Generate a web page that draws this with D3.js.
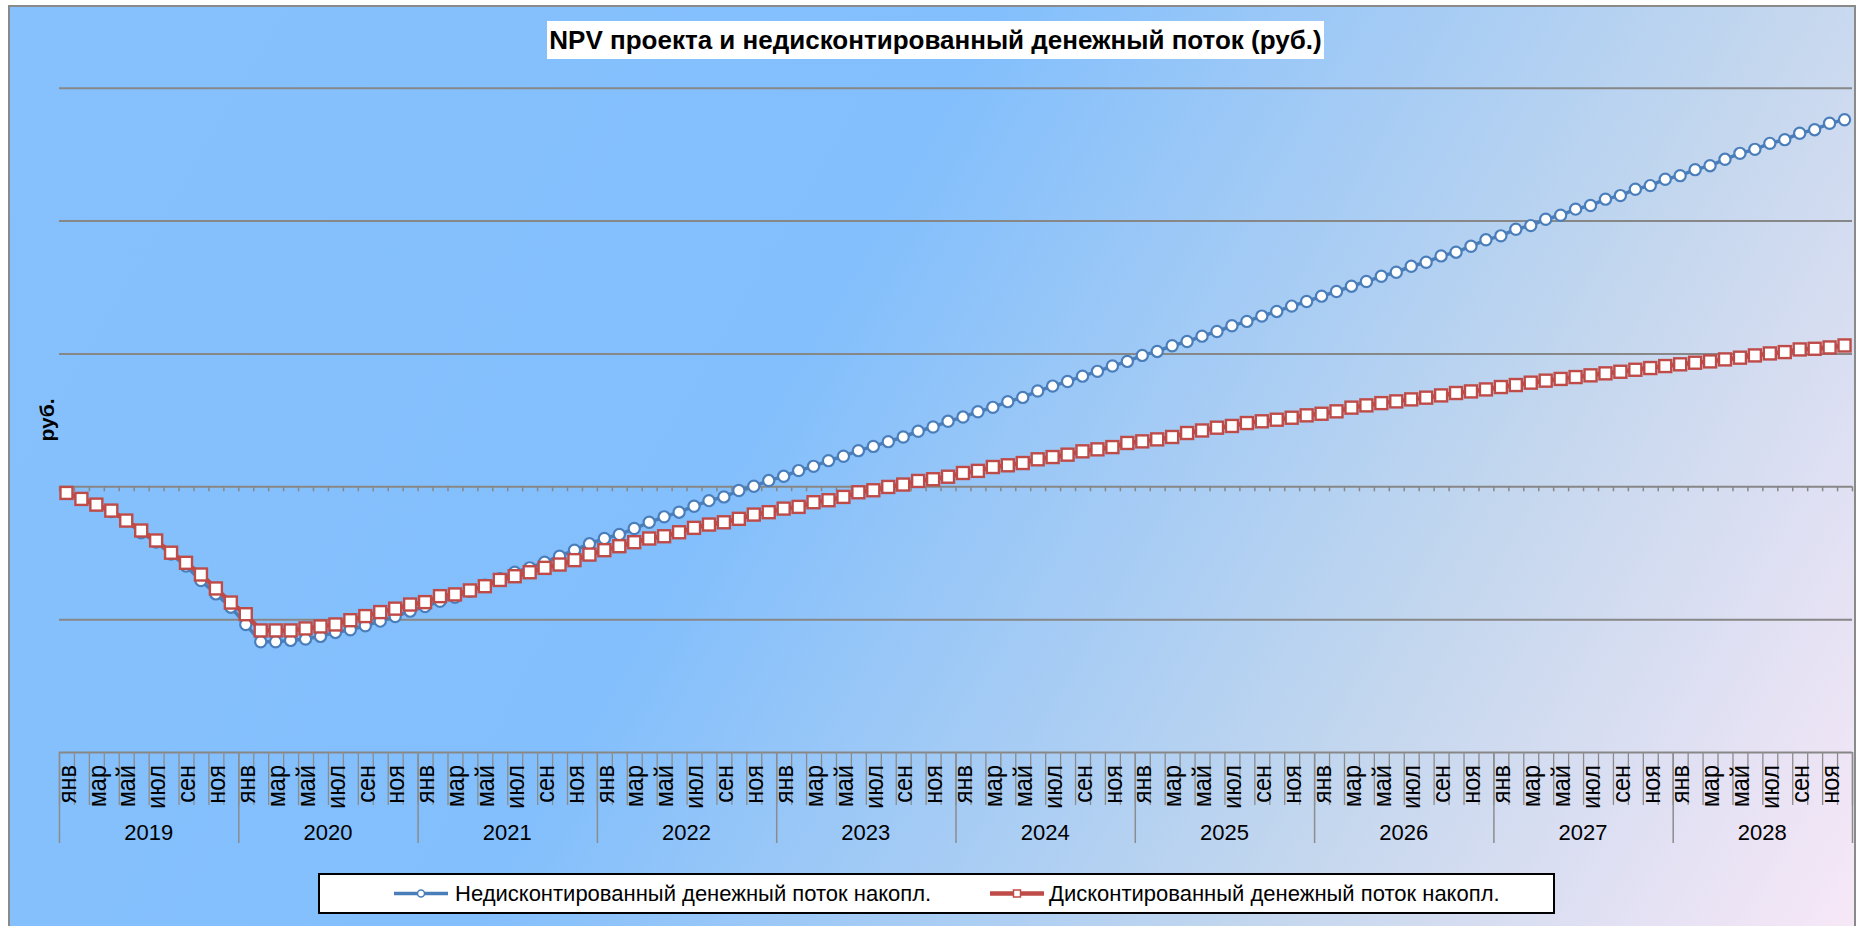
<!DOCTYPE html>
<html>
<head>
<meta charset="utf-8">
<script src="https://cdn.jsdelivr.net/npm/d3@7"></script>
<style>
    body { margin: 0; background: #ffffff; }
    text { font-family: Arial, "Liberation Sans", sans-serif; }
</style>
</head>
<body>
<div id="chart"></div>
<script>
const years = ["2019", "2020", "2021", "2022", "2023", "2024", "2025", "2026", "2027", "2028"];
const monthNames = ["янв", "фев", "мар", "апр", "май", "июн", "июл", "авг", "сен", "окт", "ноя", "дек"];
const yTicks = [-2, -1, 0, 1, 2, 3];

// накопленный поток по месяцам, 2019-01 .. 2028-12 (единицы оси, без подписей)
const undiscounted = [
    -0.05, -0.095, -0.14, -0.19, -0.26, -0.35, -0.42, -0.51, -0.60, -0.71, -0.81, -0.91,
    -1.04, -1.17, -1.17, -1.16, -1.15, -1.13, -1.10, -1.08, -1.05, -1.015, -0.98, -0.94,
    -0.905, -0.865, -0.835, -0.79, -0.745, -0.695, -0.647, -0.614, -0.571, -0.526, -0.481, -0.433,
    -0.393, -0.363, -0.318, -0.271, -0.23, -0.195, -0.15, -0.108, -0.08, -0.032, 0.0, 0.043,
    0.075, 0.118, 0.15, 0.193, 0.226, 0.268, 0.30, 0.336, 0.371, 0.414, 0.446, 0.489,
    0.521, 0.561, 0.594, 0.637, 0.669, 0.717, 0.754, 0.789, 0.829, 0.865, 0.905, 0.94,
    0.985, 1.015, 1.058, 1.09, 1.13, 1.165, 1.208, 1.241, 1.281, 1.316, 1.356, 1.391,
    1.431, 1.466, 1.506, 1.541, 1.581, 1.611, 1.656, 1.686, 1.734, 1.762, 1.807, 1.855,
    1.885, 1.935, 1.962, 2.010, 2.040, 2.086, 2.113, 2.161, 2.188, 2.236, 2.263, 2.311,
    2.338, 2.383, 2.413, 2.461, 2.506, 2.536, 2.581, 2.609, 2.657, 2.684, 2.732, 2.759
];
const discounted = [
    -0.05, -0.095, -0.138, -0.183, -0.258, -0.333, -0.408, -0.50, -0.576, -0.664, -0.769, -0.875,
    -0.963, -1.085, -1.085, -1.085, -1.07, -1.055, -1.04, -1.008, -0.977, -0.947, -0.921, -0.89,
    -0.872, -0.827, -0.814, -0.784, -0.752, -0.705, -0.677, -0.647, -0.614, -0.589, -0.556, -0.514,
    -0.481, -0.451, -0.421, -0.393, -0.376, -0.346, -0.313, -0.288, -0.271, -0.245, -0.213, -0.195,
    -0.168, -0.155, -0.12, -0.105, -0.08, -0.045, -0.03, -0.005, 0.013, 0.04, 0.053, 0.072,
    0.10, 0.116, 0.145, 0.158, 0.175, 0.203, 0.22, 0.238, 0.263, 0.278, 0.295, 0.326,
    0.338, 0.353, 0.371, 0.401, 0.42, 0.441, 0.454, 0.476, 0.489, 0.501, 0.516, 0.534,
    0.546, 0.564, 0.592, 0.609, 0.626, 0.639, 0.654, 0.667, 0.684, 0.702, 0.714, 0.729,
    0.747, 0.762, 0.78, 0.795, 0.808, 0.822, 0.835, 0.85, 0.862, 0.877, 0.89, 0.905,
    0.918, 0.93, 0.94, 0.955, 0.968, 0.985, 1.0, 1.01, 1.03, 1.035, 1.045, 1.06
];

const width = 1868, height = 926;
const plotLeft = 59, plotRight = 1852, plotTop = 87.7, plotBottom = 752;

const categories = [];
years.forEach(yr => monthNames.forEach(m => categories.push(yr + "-" + m)));

const svg = d3.select("#chart")
    .append("svg")
    .attr("width", width)
    .attr("height", height);

const grad = svg.append("defs").append("linearGradient")
    .attr("id", "bg")
    .attr("gradientUnits", "userSpaceOnUse")
    .attr("x1", 0).attr("y1", 0)
    .attr("x2", 1799).attr("y2", 1042);
grad.append("stop").attr("offset", 0).attr("stop-color", "#86c1fd");
grad.append("stop").attr("offset", 0.42).attr("stop-color", "#83bffc");
grad.append("stop").attr("offset", 0.75).attr("stop-color", "#c4d7ee");
grad.append("stop").attr("offset", 1).attr("stop-color", "#f8e8f7");

svg.append("rect")
    .attr("x", 9).attr("y", 6)
    .attr("width", 1846).attr("height", 940)
    .attr("fill", "url(#bg)")
    .attr("stroke", "#8a8a8a")
    .attr("stroke-width", 2);

const x = d3.scaleBand().domain(categories).range([plotLeft, plotRight]);
const xEdge = d3.scaleLinear().domain([0, categories.length]).range([plotLeft, plotRight]);
const y = d3.scaleLinear().domain([-2, 3]).range([plotBottom, plotTop]);

// горизонтальные линии сетки
svg.append("g")
    .attr("transform", `translate(${plotLeft},0)`)
    .call(d3.axisLeft(y).tickValues(yTicks).tickSize(-(plotRight - plotLeft)).tickFormat(""))
    .call(g => g.select(".domain").remove())
    .call(g => g.selectAll("line").attr("stroke", "#878787").attr("stroke-width", 2));

// засечки на нулевой оси
svg.append("g")
    .attr("transform", `translate(0,${y(0)})`)
    .call(d3.axisBottom(xEdge).tickValues(d3.range(categories.length + 1)).tickSize(5).tickFormat(""))
    .call(g => g.select(".domain").remove())
    .call(g => g.selectAll("line").attr("stroke", "#878787").attr("stroke-width", 1.5));

// многоуровневая подпись категорий
svg.append("g")
    .attr("transform", `translate(0,${plotBottom})`)
    .call(d3.axisBottom(xEdge).tickValues(d3.range(categories.length + 1)).tickSize(53).tickFormat(""))
    .call(g => g.select(".domain").remove())
    .call(g => g.selectAll("line").attr("stroke", "#8c8c8c").attr("stroke-width", 1.3));

svg.append("g")
    .attr("transform", `translate(0,${plotBottom})`)
    .call(d3.axisBottom(xEdge).tickValues(d3.range(0, categories.length + 1, 12)).tickSize(91).tickFormat(""))
    .call(g => g.select(".domain").remove())
    .call(g => g.selectAll("line").attr("stroke", "#8c8c8c").attr("stroke-width", 1.5));

svg.selectAll(".month-label")
    .data(categories.filter((d, i) => i % 2 === 0))
    .enter().append("text")
    .attr("class", "month-label")
    .attr("transform", d => `translate(${x(d) + x.bandwidth() / 2},765) rotate(-90) scale(1,1.12)`)
    .attr("text-anchor", "end")
    .attr("dy", "0.35em")
    .attr("font-size", 23.5)
    .attr("fill", "#000")
    .text(d => d.split("-")[1]);

svg.selectAll(".year-label")
    .data(years)
    .enter().append("text")
    .attr("class", "year-label")
    .attr("x", (d, i) => (xEdge(i * 12) + xEdge(i * 12 + 12)) / 2)
    .attr("y", 840)
    .attr("text-anchor", "middle")
    .attr("font-size", 22)
    .attr("fill", "#000")
    .text(d => d);

const line = d3.line()
    .x((d, i) => x(categories[i]) + x.bandwidth() / 2)
    .y(d => y(d));

// недисконтированный
svg.append("path")
    .datum(undiscounted)
    .attr("d", line)
    .attr("fill", "none")
    .attr("stroke", "#4a7ebb")
    .attr("stroke-width", 3.5);

svg.selectAll(".pt-u")
    .data(undiscounted)
    .enter().append("circle")
    .attr("class", "pt-u")
    .attr("cx", (d, i) => x(categories[i]) + x.bandwidth() / 2)
    .attr("cy", d => y(d))
    .attr("r", 5.6)
    .attr("fill", "#fff")
    .attr("stroke", "#4a7ebb")
    .attr("stroke-width", 2.2);

// дисконтированный
svg.append("path")
    .datum(discounted)
    .attr("d", line)
    .attr("fill", "none")
    .attr("stroke", "#be4b48")
    .attr("stroke-width", 4.5);

svg.selectAll(".pt-d")
    .data(discounted)
    .enter().append("rect")
    .attr("class", "pt-d")
    .attr("x", (d, i) => x(categories[i]) + x.bandwidth() / 2 - 6)
    .attr("y", d => y(d) - 6)
    .attr("width", 12)
    .attr("height", 12)
    .attr("fill", "#fff")
    .attr("stroke", "#be4b48")
    .attr("stroke-width", 2.4);

// заголовок
svg.append("rect")
    .attr("x", 547).attr("y", 21)
    .attr("width", 777).attr("height", 38)
    .attr("fill", "#fff");
svg.append("text")
    .attr("x", 935.5).attr("y", 49)
    .attr("text-anchor", "middle")
    .attr("font-size", 26)
    .attr("font-weight", "bold")
    .text("NPV проекта и недисконтированный денежный поток (руб.)");

svg.append("text")
    .attr("transform", "translate(47,420) rotate(-90)")
    .attr("text-anchor", "middle")
    .attr("dy", "0.35em")
    .attr("font-size", 21)
    .attr("font-weight", "bold")
    .text("руб.");

// легенда
const legend = svg.append("g");
legend.append("rect")
    .attr("x", 319).attr("y", 874)
    .attr("width", 1235).attr("height", 39)
    .attr("fill", "#fff")
    .attr("stroke", "#000")
    .attr("stroke-width", 2);

legend.append("line")
    .attr("x1", 394).attr("x2", 448).attr("y1", 893.5).attr("y2", 893.5)
    .attr("stroke", "#4a7ebb").attr("stroke-width", 3.5);
legend.append("circle")
    .attr("cx", 421).attr("cy", 893.5).attr("r", 3.5)
    .attr("fill", "#fff").attr("stroke", "#4a7ebb").attr("stroke-width", 1.5);
legend.append("text")
    .attr("x", 455).attr("y", 901)
    .attr("font-size", 22)
    .text("Недисконтированный денежный поток накопл.");

legend.append("line")
    .attr("x1", 990).attr("x2", 1044).attr("y1", 893.5).attr("y2", 893.5)
    .attr("stroke", "#be4b48").attr("stroke-width", 4.5);
legend.append("rect")
    .attr("x", 1013.5).attr("y", 890).attr("width", 7).attr("height", 7)
    .attr("fill", "#fff").attr("stroke", "#be4b48").attr("stroke-width", 1.5);
legend.append("text")
    .attr("x", 1049).attr("y", 901)
    .attr("font-size", 22)
    .text("Дисконтированный денежный поток накопл.");
</script>
</body>
</html>
